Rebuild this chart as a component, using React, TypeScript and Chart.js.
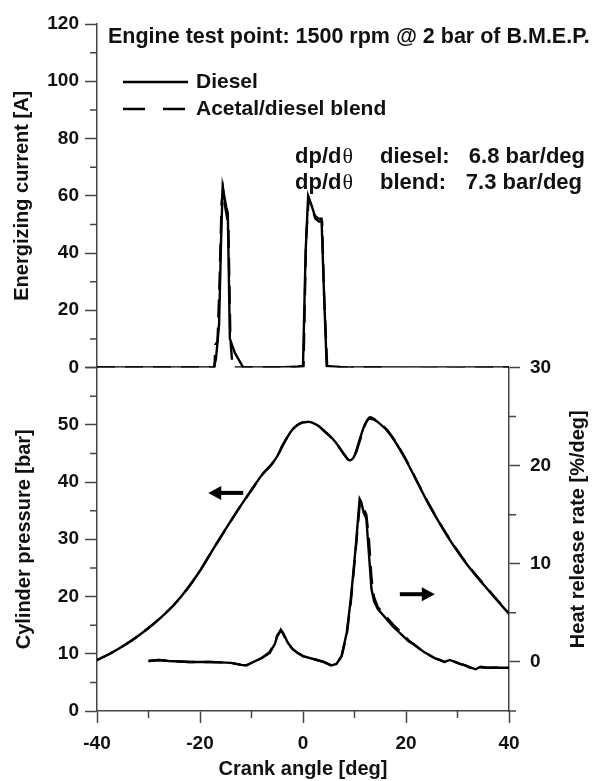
import React, { useEffect, useRef } from 'react';
import { Chart, registerables } from 'chart.js';

Chart.register(...registerables);

// ---------- data ----------
// Energizing current [A] vs crank angle [deg]
const currentAngleDiesel = [-40, -17.3, -16.9, -16.3, -15.9, -15.6, -15.3, -14.9, -14.6, -14.2, -13.2, -11.6, -5, -1, 0.0, 0.5, 1.0, 1.6, 2.3, 3.0, 3.6, 4.0, 4.6, 8, 15, 20, 25, 30, 35, 40];
const currentDiesel = [0, 0, 3, 15, 45, 63, 60, 56, 54, 10, 5, 0, 0, 0.3, 0.5, 40, 60, 57, 53, 52, 52, 30, 0.5, 0, 0, 0, 0, 0, 0, 0];

const currentAngleBlend = [-40, -17.2, -17.0, -16.6, -16.2, -15.8, -15.5, -15.2, -14.8, -14.5, -14.1, -13.8, -13.7, -5, -1, 0.1, 0.6, 1.1, 1.7, 2.4, 3.1, 3.7, 4.1, 4.7, 8.5, 9.0, 9.5, 16.8, 17.2, 40];
const currentBlend = [0, 0, 8, 9, 30, 58, 62, 57, 53, 50, 10, 3, 0, 0, 0.3, 0.5, 45, 59, 56, 52, 51, 51, 25, 0.3, 0, -0.6, 0, 0, -0.6, 0];

// Cylinder pressure [bar]
const pressureAngle = [-40, -37.5, -35, -32.5, -30, -27.5, -25, -22.5, -20, -17.5, -15, -12.5, -10, -8, -6, -5, -4, -3, -2, -1, 0, 1, 2, 3, 4, 5, 6, 7, 8, 9, 10, 11, 12, 13, 14, 15, 16, 17, 18, 20, 22, 24, 26, 28, 30, 32, 34, 36, 38, 40];
const pressureDiesel = [8.9, 10.0, 11.3, 12.8, 14.5, 16.4, 18.6, 21.3, 24.5, 28.2, 31.8, 35.3, 38.6, 41.2, 43.2, 44.5, 46.3, 47.9, 49.2, 50.0, 50.4, 50.5, 50.3, 49.8, 49.0, 48.2, 47.3, 46.1, 44.8, 43.8, 44.6, 47.4, 50.0, 51.1, 50.8, 50.1, 49.3, 48.2, 46.9, 43.8, 40.3, 36.8, 33.6, 30.6, 27.9, 25.4, 23.2, 21.1, 19.0, 17.0];
const pressureBlend = [8.9, 10.0, 11.3, 12.8, 14.5, 16.4, 18.6, 21.3, 24.5, 28.2, 31.8, 35.3, 38.6, 41.2, 43.2, 44.5, 46.3, 47.9, 49.2, 50.0, 50.4, 50.5, 50.3, 49.8, 49.0, 48.2, 47.3, 46.1, 44.8, 43.9, 44.5, 47.1, 49.9, 51.3, 50.9, 50.2, 49.4, 48.3, 47.0, 43.9, 40.4, 36.9, 33.7, 30.7, 28.0, 25.5, 23.3, 21.2, 19.1, 17.1];

// Heat release rate [%/deg]
const hrrAngle = [-30, -28, -26, -24, -22, -20, -18, -16, -14, -12, -11, -10, -8, -6.5, -5.5, -5, -4.3, -3.8, -3, -2, -1, 0, 2, 4, 5.5, 6.5, 7.5, 8.5, 9.3, 10.2, 11.0, 11.3, 11.8, 12.3, 12.8, 13.3, 13.8, 14.5, 15.5, 16.5, 17.5, 18.5, 19.5, 20.5, 21.5, 22.5, 23.5, 24.5, 25.5, 26.5, 27.5, 28.5, 29.5, 30.5, 31.5, 32.5, 33.5, 34.5, 36, 38, 40];
const hrrDiesel = [0.1, 0.2, 0.1, 0.05, 0, 0, 0, -0.05, -0.1, -0.3, -0.35, -0.1, 0.4, 0.9, 1.8, 2.6, 3.3, 2.9, 2.0, 1.3, 0.9, 0.6, 0.3, 0, -0.35, -0.2, 0.6, 3.0, 6.5, 11.5, 16.6, 16.3, 15.2, 14.6, 11.0, 7.4, 6.2, 5.4, 4.8, 4.2, 3.6, 3.1, 2.6, 2.1, 1.8, 1.4, 1.0, 0.7, 0.4, 0.2, 0.0, 0.2, 0.0, -0.2, -0.35, -0.55, -0.75, -0.5, -0.6, -0.6, -0.6];
const hrrBlend = [0.1, 0.2, 0.1, 0.05, 0, 0, 0, -0.05, -0.1, -0.3, -0.35, -0.1, 0.4, 1.0, 1.9, 2.7, 3.2, 2.8, 1.9, 1.3, 0.9, 0.6, 0.3, 0, -0.35, -0.2, 0.6, 2.8, 6.2, 11.2, 16.0, 16.2, 15.6, 15.0, 12.5, 8.5, 6.6, 5.6, 5.0, 4.4, 3.8, 3.3, 2.8, 2.2, 1.8, 1.4, 1.0, 0.7, 0.4, 0.2, 0.0, 0.2, 0.0, -0.2, -0.35, -0.6, -0.8, -0.55, -0.6, -0.55, -0.6];

// tick settings
const xMinorTicks = [-30, -10, 10, 30];
const currentMinorTicks = [10, 30, 50, 70, 90, 110];
const pressureMinorTicks = [5, 15, 25, 35, 45, 55];
const hrrMinorTicks = [-5, 5, 15, 25];

const seriesLabels = ['Diesel', 'Acetal/diesel blend'];
const titleText = 'Engine test point: 1500 rpm @ 2 bar of B.M.E.P.';
const slopeNames = ['diesel:', 'blend:'];
const slopeValues = ['6.8 bar/deg', '7.3 bar/deg'];

// ---------- styles ----------
const FONT = '"Liberation Sans", Arial, Helvetica, sans-serif';
const SERIF = '"Liberation Serif", "DejaVu Serif", serif';
const AXIS = '#444';
const INK = '#111';
const DASH = [18, 10];

const pts = (xs: number[], ys: number[]) => xs.map((x, i) => ({ x, y: ys[i] }));

const lineStyle = (dashed: boolean, smooth = false) => ({
  borderColor: '#000',
  borderWidth: 2.4,
  borderDash: dashed ? DASH : [],
  pointRadius: 0,
  tension: 0,
  cubicInterpolationMode: smooth ? 'monotone' : 'default',
  fill: false,
});

const tickFont = { family: FONT, size: 19, weight: 'bold' as const };
const titleFont = { family: FONT, size: 20, weight: 'bold' as const };

const decor = {
  id: 'decor',
  afterDraw(chart: any) {
    const { ctx, chartArea, scales } = chart;
    const { x, yI, yP, yH } = scales;
    ctx.save();

    // minor ticks
    ctx.strokeStyle = AXIS;
    ctx.lineWidth = 1.5;
    ctx.beginPath();
    xMinorTicks.forEach((v) => {
      const px = x.getPixelForValue(v);
      ctx.moveTo(px, x.top);
      ctx.lineTo(px, x.top + 7);
    });
    currentMinorTicks.forEach((v) => {
      const py = yI.getPixelForValue(v);
      ctx.moveTo(yI.right, py);
      ctx.lineTo(yI.right - 7, py);
    });
    pressureMinorTicks.forEach((v) => {
      const py = yP.getPixelForValue(v);
      ctx.moveTo(yP.right, py);
      ctx.lineTo(yP.right - 7, py);
    });
    hrrMinorTicks.forEach((v) => {
      const py = yH.getPixelForValue(v);
      ctx.moveTo(yH.left, py);
      ctx.lineTo(yH.left + 7, py);
    });
    ctx.stroke();

    ctx.fillStyle = INK;
    ctx.textBaseline = 'middle';
    const L = chartArea.left;
    const T = chartArea.top;

    // title
    ctx.font = `bold 21.5px ${FONT}`;
    ctx.textAlign = 'left';
    ctx.fillText(titleText, L + 11, T + 13);

    // legend
    const rows = [T + 58, T + 85];
    rows.forEach((ry, i) => {
      ctx.strokeStyle = '#000';
      ctx.lineWidth = 2.4;
      ctx.setLineDash(i === 0 ? [] : [22, 18]);
      ctx.beginPath();
      ctx.moveTo(L + 26, ry);
      ctx.lineTo(L + 91, ry);
      ctx.stroke();
      ctx.setLineDash([]);
      ctx.font = `bold 21px ${FONT}`;
      ctx.fillText(seriesLabels[i], L + 99, ry);
    });

    // dp/dθ annotations
    const arows = [T + 133, T + 159];
    arows.forEach((ry, i) => {
      ctx.textAlign = 'left';
      ctx.font = `bold 22px ${FONT}`;
      ctx.fillText('dp/d', L + 198, ry);
      const w = ctx.measureText('dp/d').width;
      ctx.font = `22px ${SERIF}`;
      ctx.fillText('θ', L + 198 + w + 1, ry);
      ctx.font = `bold 22px ${FONT}`;
      ctx.fillText(slopeNames[i], L + 283, ry);
      ctx.textAlign = 'right';
      ctx.fillText(slopeValues[i], L + 488 - i * 3, ry);
    });

    // right axis title (reads bottom-to-top)
    ctx.save();
    ctx.translate(yH.right - 21, (yH.top + yH.bottom) / 2 - 10);
    ctx.rotate(-Math.PI / 2);
    ctx.textAlign = 'center';
    ctx.font = `bold 20px ${FONT}`;
    ctx.fillText('Heat release rate [%/deg]', 0, 0);
    ctx.restore();

    // arrows
    const arrow = (x0: number, x1: number, y: number) => {
      const dir = Math.sign(x1 - x0);
      ctx.strokeStyle = '#000';
      ctx.fillStyle = '#000';
      ctx.lineWidth = 4;
      ctx.beginPath();
      ctx.moveTo(x0, y);
      ctx.lineTo(x1 - dir * 10, y);
      ctx.stroke();
      ctx.beginPath();
      ctx.moveTo(x1, y);
      ctx.lineTo(x1 - dir * 13, y - 7);
      ctx.lineTo(x1 - dir * 13, y + 7);
      ctx.closePath();
      ctx.fill();
    };
    arrow(x.getPixelForValue(-11.6), x.getPixelForValue(-18.4), yP.getPixelForValue(38.1));
    arrow(x.getPixelForValue(18.8), x.getPixelForValue(25.6), yH.getPixelForValue(6.9));

    ctx.restore();
  },
};

export default function App() {
  const ref = useRef<HTMLCanvasElement | null>(null);

  useEffect(() => {
    if (!ref.current) return;
    const chart = new Chart(ref.current, {
      type: 'line',
      data: {
        datasets: [
          { label: 'Diesel current', data: pts(currentAngleDiesel, currentDiesel), yAxisID: 'yI', ...lineStyle(false) },
          { label: 'Blend current', data: pts(currentAngleBlend, currentBlend), yAxisID: 'yI', ...lineStyle(true) },
          { label: 'Diesel pressure', data: pts(pressureAngle, pressureDiesel), yAxisID: 'yP', ...lineStyle(false, true) },
          { label: 'Blend pressure', data: pts(pressureAngle, pressureBlend), yAxisID: 'yP', ...lineStyle(true, true) },
          { label: 'Diesel HRR', data: pts(hrrAngle, hrrDiesel), yAxisID: 'yH', ...lineStyle(false) },
          { label: 'Blend HRR', data: pts(hrrAngle, hrrBlend), yAxisID: 'yH', ...lineStyle(true) },
        ] as any,
      },
      options: {
        responsive: false,
        animation: false,
        layout: { padding: { top: 24, left: 0, right: 0, bottom: 0 } },
        plugins: { legend: { display: false }, tooltip: { enabled: false } },
        scales: {
          x: {
            type: 'linear',
            position: 'bottom',
            min: -40,
            max: 40,
            ticks: { stepSize: 20, font: tickFont, color: INK, padding: 9 },
            grid: { drawOnChartArea: false, tickLength: 12, tickColor: AXIS, tickWidth: 1.5 },
            border: { color: AXIS, width: 1.5 },
            title: { display: true, text: 'Crank angle [deg]', font: titleFont, color: INK, padding: { top: 0, bottom: 0 } },
            afterFit: (s: any) => { s.height = 70; },
          },
          yP: {
            type: 'linear',
            position: 'left',
            stack: 'left',
            stackWeight: 1,
            min: 0,
            max: 60,
            ticks: { stepSize: 10, font: tickFont, color: INK, padding: 6, callback: (v: any) => (v === 60 ? '' : v) },
            grid: { drawOnChartArea: false, tickLength: 12, tickColor: AXIS, tickWidth: 1.5 },
            border: { color: AXIS, width: 1.5 },
            title: { display: true, text: 'Cylinder pressure [bar]', font: titleFont, color: INK, padding: { top: 12, bottom: 0 } },
            afterFit: (s: any) => { s.width = 97; },
          },
          yI: {
            type: 'linear',
            position: 'left',
            stack: 'left',
            stackWeight: 1,
            min: 0,
            max: 120,
            ticks: { stepSize: 20, font: tickFont, color: INK, padding: 6 },
            grid: { drawOnChartArea: false, tickLength: 12, tickColor: AXIS, tickWidth: 1.5 },
            border: { color: AXIS, width: 1.5 },
            title: { display: true, text: 'Energizing current [A]', font: titleFont, color: INK, padding: { top: 10, bottom: 0 } },
            afterFit: (s: any) => { s.width = 97; },
          },
          yD: {
            type: 'linear',
            position: 'right',
            stack: 'right',
            stackWeight: 1,
            ticks: { display: false },
            grid: { display: false },
            border: { display: false },
            afterFit: (s: any) => { s.width = 90; },
          },
          yH: {
            type: 'linear',
            position: 'right',
            stack: 'right',
            stackWeight: 1,
            min: -5,
            max: 30,
            ticks: { stepSize: 10, includeBounds: false, font: tickFont, color: INK, padding: 10 },
            grid: { drawOnChartArea: false, tickLength: 11, tickColor: AXIS, tickWidth: 1.5 },
            border: { color: AXIS, width: 1.5 },
            afterFit: (s: any) => { s.width = 90; },
          },
        } as any,
      },
      plugins: [decor],
    });
    return () => chart.destroy();
  }, []);

  return (
    <div style={{ position: 'absolute', left: 0, top: 0, width: 599, height: 781, background: '#fff' }}>
      <canvas ref={ref} width={599} height={781} style={{ width: 599, height: 781, display: 'block' }} />
    </div>
  );
}
